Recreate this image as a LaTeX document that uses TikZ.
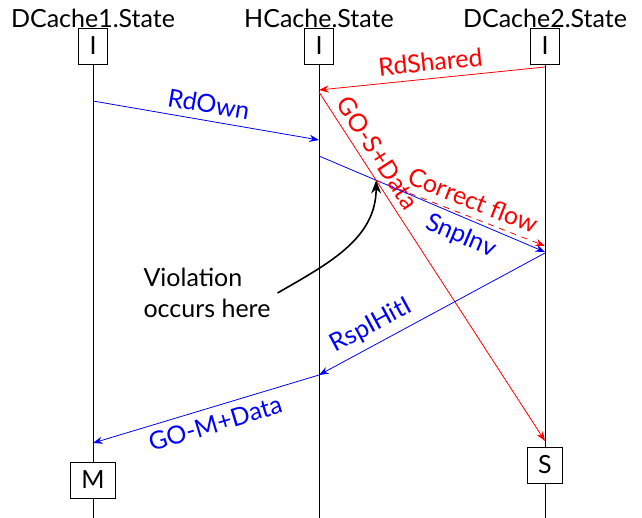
\documentclass[tikz,border=0pt]{standalone}
\usepackage{fontspec}
\setmainfont{Lato}
\usetikzlibrary{arrows.meta}

\begin{document}
\begin{tikzpicture}[x=0.5pt,y=-0.5pt,font=\fontsize{12.5}{15.5}\selectfont,
  state/.style={draw,fill=white,minimum height=18pt,inner xsep=5.5pt},
  msg/.style={-{Stealth}},
  lbl/.style={sloped,inner sep=3.5pt}]
  \useasboundingbox (0,0) rectangle (642,518);
  % lifelines
  \node (t1) at (93,18) {DCache1.State};
  \node (t2) at (319,18) {HCache.State};
  \node (t3) at (545,18) {DCache2.State};
  \node[state] (d1i) at (93,46) {I};
  \node[state] (hi) at (319,46) {I};
  \node[state] (d2i) at (545,46) {I};
  \node[state] (d1m) at (93,480) {M};
  \node[state] (d2s) at (545,465) {S};
  \coordinate (d1end) at (93,518);
  \coordinate (hend) at (319,518);
  \coordinate (d2end) at (545,518);
  \draw (d1i) -- (d1m) (d1m) -- (d1end);
  \draw (hi) -- (hend);
  \draw (d2i) -- (d2s) (d2s) -- (d2end);
  % message points
  \coordinate (a1) at (545,67);  \coordinate (a2) at (319,90);
  \coordinate (b1) at (93,101);  \coordinate (b2) at (319,140);
  \coordinate (c1) at (319,92);  \coordinate (c2) at (545,441);
  \coordinate (s1) at (319,156); \coordinate (s2) at (545,252);
  \coordinate (e2) at (545,246);
  \coordinate (f1) at (545,253); \coordinate (f2) at (319,375);
  \coordinate (g2) at (93,443);
  \coordinate (viol) at (intersection of c1--c2 and s1--s2);
  % messages
  \draw[msg,red] (a1) -- node[lbl,above] {RdShared} (a2);
  \draw[msg,blue] (b1) -- node[lbl,above] {RdOwn} (b2);
  \draw[msg,red] (c1) -- node[lbl,above,pos=0.2] {GO-S+Data} (c2);
  \draw[msg,blue] (s1) -- node[lbl,below,pos=0.66] {SnpInv} (s2);
  \draw[msg,red,dashed] (viol) -- node[lbl,above,pos=0.54] {Correct flow} (e2);
  \draw[msg,blue] (f1) -- node[lbl,above,pos=0.73] {RspIHitI} (f2);
  \draw[msg,blue] (f2) -- node[lbl,below,pos=0.48] {GO-M+Data} (g2);
  % note
  \node[align=left] (note) at (207,293) {Violation\\occurs here};
  \draw[-{Stealth},thick] (note.east) to[out=30,in=-90] (viol);
\end{tikzpicture}
\end{document}
